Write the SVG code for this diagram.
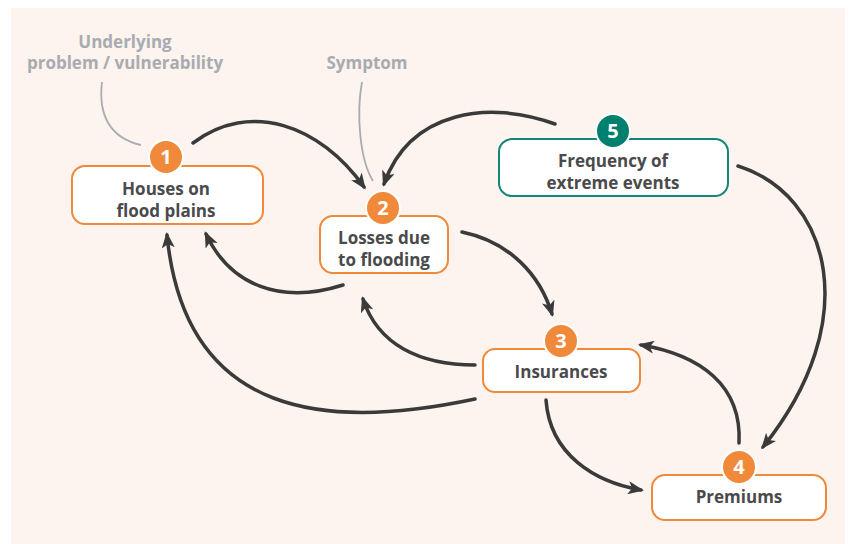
<svg xmlns="http://www.w3.org/2000/svg" width="857" height="544" viewBox="0 0 857 544">
  <style>
    .box { fill: #ffffff; stroke: #f08a3a; stroke-width: 2; }
    .box.teal { stroke: #11877a; }
    .badge { fill: #f08a3a; stroke: #ffffff; stroke-width: 2; }
    .badge.teal { fill: #00806e; }
    .num { font-family: "Open Sans", "Liberation Sans", sans-serif; font-weight: 700; font-size: 20px; fill: #ffffff; text-anchor: middle; }
    .label { font-family: "Open Sans", "Liberation Sans", sans-serif; font-weight: 700; font-size: 17px; fill: #4a4a4c; text-anchor: middle; }
    .note { font-family: "Open Sans", "Liberation Sans", sans-serif; font-weight: 700; font-size: 17px; fill: #a8abb0; text-anchor: middle; }
    .link { fill: none; stroke: #3a3a3a; stroke-width: 3.5; stroke-linecap: round; marker-end: url(#head); }
    .pointer { fill: none; stroke: #a8abb0; stroke-width: 1.8; }
  </style>
  <defs>
    <marker id="head" viewBox="0 0 16 13" refX="13" refY="6.5" markerWidth="16" markerHeight="13" markerUnits="userSpaceOnUse" orient="auto">
      <path d="M0,0 L16,6.5 L0,13 L4,6.5 z" fill="#3a3a3a"/>
    </marker>
  </defs>

  <rect x="11" y="8" width="834" height="536" fill="#fdf3ef"/>

  <!-- annotation labels -->
  <g id="notes">
    <text class="note" x="125" y="48">Underlying</text>
    <text class="note" x="125" y="69">problem / vulnerability</text>
    <text class="note" x="367" y="69">Symptom</text>
    <path class="pointer" d="M102,82 C98,115 110,138 141,145"/>
    <path class="pointer" d="M362,82 C356,115 360,160 373,181"/>
  </g>

  <!-- connectors -->
  <g id="connectors">
    <path class="link" d="M193,143 C250,100 320,125 364,187"/>
    <path class="link" d="M555,124 C490,100 410,110 384,184"/>
    <path class="link" d="M343,285 C280,305 230,285 206,234"/>
    <path class="link" d="M475,399 C330,430 185,420 167,235"/>
    <path class="link" d="M462,232 C510,242 540,275 552,314"/>
    <path class="link" d="M475,365 C420,365 378,345 363,299"/>
    <path class="link" d="M546,400 C550,455 595,482 641,490"/>
    <path class="link" d="M739,443 C742,385 700,355 641,345"/>
    <path class="link" d="M738,166 C830,195 865,320 763,447"/>
  </g>

  <g id="node1">
    <rect class="box" x="72" y="166" width="191" height="58" rx="13"/>
    <circle class="badge" cx="166" cy="157" r="17"/>
    <text class="num" x="166" y="164">1</text>
    <text class="label" x="166" y="195">Houses on</text>
    <text class="label" x="166" y="217">flood plains</text>
  </g>

  <g id="node2">
    <rect class="box" x="320" y="216" width="128" height="57" rx="13"/>
    <circle class="badge" cx="383" cy="208" r="17"/>
    <text class="num" x="383" y="215">2</text>
    <text class="label" x="384" y="244">Losses due</text>
    <text class="label" x="384" y="266">to flooding</text>
  </g>

  <g id="node3">
    <rect class="box" x="483" y="349" width="157" height="43" rx="12"/>
    <circle class="badge" cx="561" cy="341" r="17"/>
    <text class="num" x="561" y="348">3</text>
    <text class="label" x="561" y="378">Insurances</text>
  </g>

  <g id="node4">
    <rect class="box" x="652" y="475" width="174" height="45" rx="13"/>
    <circle class="badge" cx="739" cy="467" r="17"/>
    <text class="num" x="739" y="474">4</text>
    <text class="label" x="739" y="503">Premiums</text>
  </g>

  <g id="node5">
    <rect class="box teal" x="499" y="139" width="229" height="57" rx="13"/>
    <circle class="badge teal" cx="613" cy="131" r="17"/>
    <text class="num" x="613" y="138">5</text>
    <text class="label" x="613" y="167">Frequency of</text>
    <text class="label" x="613" y="189">extreme events</text>
  </g>
</svg>
